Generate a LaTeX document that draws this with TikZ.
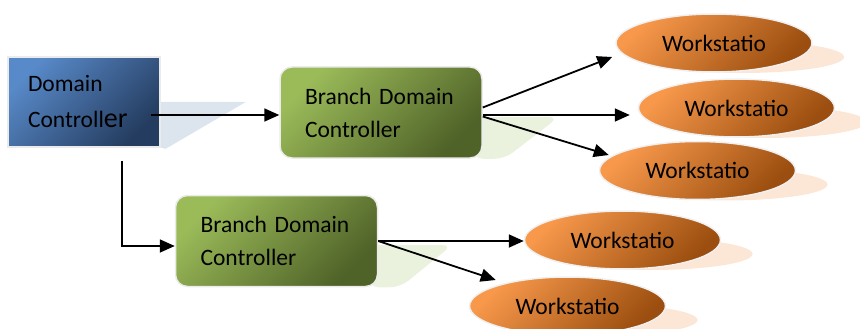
\documentclass[tikz,border=0pt]{standalone}
\usepackage{fontspec}
\setmainfont{Carlito}
\usetikzlibrary{shapes.geometric,arrows.meta,positioning,calc,backgrounds}
\definecolor{dcblue}{RGB}{88,137,200}
\definecolor{dcnavy}{RGB}{36,60,95}
\definecolor{brgreen}{RGB}{155,187,89}
\definecolor{brolive}{RGB}{79,98,40}
\definecolor{wsorange}{RGB}{247,152,75}
\definecolor{wsbrown}{RGB}{155,78,15}
\definecolor{dcshade}{RGB}{220,228,238}
\definecolor{brshade}{RGB}{234,241,221}
\definecolor{wsshade}{RGB}{252,230,214}

\begin{document}
\begin{tikzpicture}[
        x=1pt, y=-1pt,
        every node/.style={font=\fontsize{23.5}{33}\selectfont},
        dcbox/.style={rectangle, draw=black!8, line width=1.5pt,
            top color=dcblue, bottom color=dcnavy, shading angle=45,
            text width=112pt, inner xsep=20pt, minimum height=90pt, align=left},
        brbox/.style={rectangle, rounded corners=12pt, draw=black!8, line width=1.5pt,
            top color=brgreen, bottom color=brolive, shading angle=45,
            text width=152pt, inner xsep=25pt, minimum height=91pt, align=left},
        ws/.style={ellipse, draw=black!6, line width=1.5pt,
            top color=wsorange, bottom color=wsbrown, shading angle=45,
            minimum width=196pt, minimum height=58pt, inner sep=0pt},
        arr/.style={-{Triangle[length=15pt,width=13pt]}, line width=1.8pt}
    ]
    \useasboundingbox (0,0) rectangle (860,329);

    % controllers
    \node[dcbox] (dc) at (84,102) {Domain\\[3pt]Controll{\fontsize{28}{30}\selectfont er}};
    \node[brbox] (br1) at (381,112.5) {Branch Domain\\Controller};
    \node[brbox] (br2) at (276.5,241) {Branch Domain\\Controller};

    % workstations
    \node[ws] (ws1) at (714,43) {Workstatio};
    \node[ws] (ws2) at (736.5,108) {Workstatio};
    \node[ws] (ws3) at (697.5,170.5) {Workstatio};
    \node[ws] (ws4) at (622.5,240) {Workstatio};
    \node[ws] (ws5) at (567.5,306) {Workstatio};

    % shadows
    \begin{scope}[on background layer]
        \fill[dcshade] (dc.east) -- ++(85,0) -- ($(dc.south east)+(5,1)$) -- (dc.south east) -- cycle;
        \fill[brshade, rounded corners=10pt] ($(br1.east)+(-10,4.5)$) -- ++(86,0)
            -- ($(br1.south east)+(22,0)$) -- ($(br1.south east)+(-10,0)$) -- cycle;
        \fill[brshade, rounded corners=10pt] ($(br2.east)+(-10,4)$) -- ++(84,0)
            -- ($(br2.south east)+(22,0)$) -- ($(br2.south east)+(-10,0)$) -- cycle;
        \foreach \w in {ws1,ws2,ws3,ws4,ws5}
            \fill[wsshade] ($(\w)+(28,14)$) ellipse [x radius=102, y radius=16];
    \end{scope}

    % connections
    \coordinate (dcout) at ($(dc.east)+(-10,13)$);
    \draw[arr] (dcout) -- (dcout -| br1.west);
    \coordinate (dcdown) at ($(dc.south)+(38,13)$);
    \draw[arr] (dcdown) |- ($(br2.west)+(0,5)$);
    \draw[arr] ($(br1.east)+(0,-5)$) -- ($(ws1.west)+(-3,14)$);
    \draw[arr] ($(br1.east)+(0,2.5)$) -- ($(ws2.west)+(-8,7)$);
    \draw[arr] ($(br1.east)+(0,4)$) -- ($(ws3.west)+(10,-15.5)$);
    \draw[arr] (br2.east) -- (br2.east -| ws4.west);
    \draw[arr] (br2.east) -- ($(ws5.west)+(27,-26)$);
\end{tikzpicture}
\end{document}
